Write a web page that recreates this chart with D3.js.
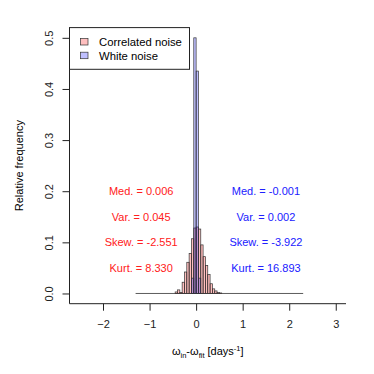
<!DOCTYPE html>
<html>
<head>
<meta charset="utf-8">
<script src="https://cdn.jsdelivr.net/npm/d3@7"></script>
<style>
  body { margin: 0; background: #fff; }
  text { font-family: "Liberation Sans", Arial, sans-serif; }
</style>
</head>
<body>
<div id="chart"></div>
<script>
// histogram data (relative frequency, bin width 0.05)
const binWidth = 0.05;
const histRange = [-1.3, 2.3];

const corrStarts = [-0.45, -0.4, -0.35, -0.3, -0.25, -0.2, -0.15, -0.1, -0.05, 0, 0.05, 0.1, 0.15, 0.2, 0.25, 0.3, 0.35, 0.4, 0.45, 0.5];
const corrFreq   = [0.003, 0.007, 0.002, 0.022, 0.042, 0.061, 0.078, 0.107, 0.128, 0.13, 0.126, 0.095, 0.072, 0.055, 0.037, 0.019, 0.009, 0.005, 0.002, 0.001];

const whiteStarts = [-0.1, -0.05, 0, 0.05];
const whiteFreq   = [0.03, 0.5, 0.435, 0.03];

const legendLabels = ["Correlated noise", "White noise"];
const corrStats  = ["Med. = 0.006", "Var. = 0.045", "Skew. = -2.551", "Kurt. = 8.330"];
const whiteStats = ["Med. = -0.001", "Var. = 0.002", "Skew. = -3.922", "Kurt. = 16.893"];
const statY = [0.2, 0.15, 0.1, 0.05];
const statX = [-1.18, 1.5];

const xTicks = [-2, -1, 0, 1, 2, 3];
const yTicks = [0, 0.1, 0.2, 0.3, 0.4, 0.5];

const width = 374, height = 374;
const corrFill = "rgba(255,0,0,0.25)";
const whiteFill = "rgba(0,0,255,0.25)";

let svg = d3.select("#chart").append("svg")
  .attr("width", width)
  .attr("height", height);

let x = d3.scaleLinear().domain([-2.72, 3.22]).range([69.5, 346]);
let y = d3.scaleLinear().domain([-0.02, 0.52]).range([303.7, 27.6]);

// zero-height bins show as a line
svg.append("line")
  .attr("x1", x(histRange[0])).attr("x2", x(histRange[1]))
  .attr("y1", y(0)).attr("y2", y(0))
  .attr("stroke", "#333").attr("stroke-width", 0.8);

function drawHist(starts, freq, fill) {
  let data = starts.map((s, i) => ({ s: s, f: freq[i] }));
  svg.append("g").selectAll("rect").data(data)
    .enter().append("rect")
    .attr("x", d => x(d.s))
    .attr("width", d => x(d.s + binWidth) - x(d.s))
    .attr("y", d => y(d.f))
    .attr("height", d => y(0) - y(d.f))
    .attr("fill", fill)
    .attr("stroke", "#333")
    .attr("stroke-width", 0.7);
}
drawHist(corrStarts, corrFreq, corrFill);
drawHist(whiteStarts, whiteFreq, whiteFill);

// L-shaped box
svg.append("path")
  .attr("d", `M${x.range()[0]},${y.range()[1]} V${y.range()[0]} H${x.range()[1]}`)
  .attr("fill", "none").attr("stroke", "#222").attr("stroke-width", 1);

// axes
let gx = svg.append("g")
  .attr("transform", `translate(0,${y.range()[0]})`)
  .call(d3.axisBottom(x).tickValues(xTicks).tickSize(7).tickFormat(d3.format("d")));
gx.select(".domain").remove();
gx.selectAll("line").attr("stroke", "#222");
gx.selectAll("text")
  .attr("y", 24.8).attr("dy", 0)
  .style("font-size", "11px").attr("fill", "#222");

let gy = svg.append("g")
  .attr("transform", `translate(${x.range()[0]},0)`)
  .call(d3.axisLeft(y).tickValues(yTicks).tickSize(7).tickFormat(d3.format(".1f")));
gy.select(".domain").remove();
gy.selectAll("line").attr("stroke", "#222");
gy.selectAll("text")
  .attr("x", 0).attr("dy", 0)
  .attr("text-anchor", "middle")
  .attr("transform", "translate(-16.5,0) rotate(-90)")
  .style("font-size", "11px").attr("fill", "#222");

// axis titles
svg.append("text")
  .attr("transform", `translate(22.5,${(y.range()[0] + y.range()[1]) / 2}) rotate(-90)`)
  .attr("text-anchor", "middle")
  .style("font-size", "11px")
  .text("Relative frequency");

let xt = svg.append("text")
  .attr("x", (x.range()[0] + x.range()[1]) / 2)
  .attr("y", 355)
  .attr("text-anchor", "middle")
  .style("font-size", "11px");
xt.append("tspan").text("ω");
xt.append("tspan").attr("dy", 2.5).style("font-size", "7.5px").text("in");
xt.append("tspan").attr("dy", -2.5).text("-ω");
xt.append("tspan").attr("dy", 2.5).style("font-size", "7.5px").text("fit");
xt.append("tspan").attr("dy", -2.5).text(" [days");
xt.append("tspan").attr("dy", -4.5).style("font-size", "7.5px").text("-1");
xt.append("tspan").attr("dy", 4.5).text("]");

// statistics
function drawStats(lines, xv, col) {
  svg.append("g").selectAll("text").data(lines)
    .enter().append("text")
    .attr("x", x(xv))
    .attr("y", (d, i) => y(statY[i]))
    .attr("dy", "0.36em")
    .attr("text-anchor", "middle")
    .attr("fill", col)
    .style("font-size", "11px")
    .text(d => d);
}
drawStats(corrStats, statX[0], "#ff2020");
drawStats(whiteStats, statX[1], "#2020ff");

// legend
let lg = svg.append("g");
lg.append("rect")
  .attr("x", 69.5).attr("y", 27.6)
  .attr("width", 120).attr("height", 41.7)
  .attr("fill", "#fff").attr("stroke", "#222").attr("stroke-width", 1);
[corrFill, whiteFill].forEach((c, i) => {
  lg.append("rect")
    .attr("x", 80.5).attr("y", 38.5 + i * 13.7)
    .attr("width", 7.5).attr("height", 6.5)
    .attr("fill", c).attr("stroke", "#333").attr("stroke-width", 0.7);
  lg.append("text")
    .attr("x", 99).attr("y", 45.8 + i * 13.7)
    .style("font-size", "11.3px")
    .text(legendLabels[i]);
});
</script>
</body>
</html>
